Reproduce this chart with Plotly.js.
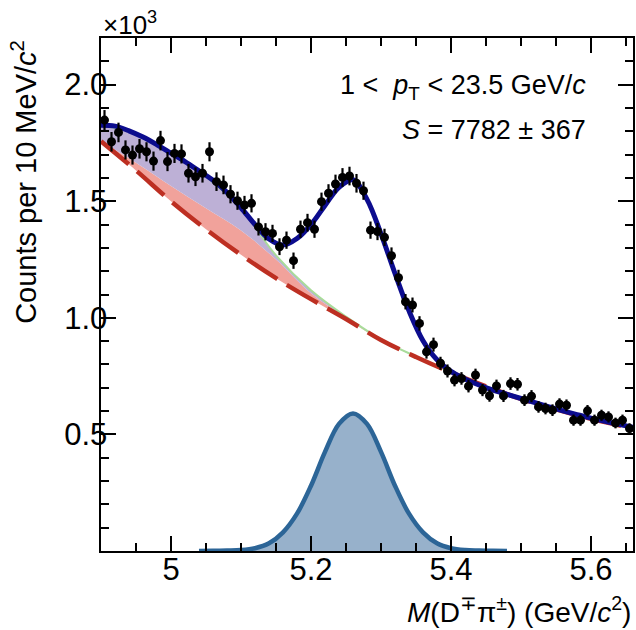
<!DOCTYPE html>
<html>
<head>
<meta charset="utf-8">
<script src="https://cdn.plot.ly/plotly-3.0.1.min.js"></script>
<style>html,body{margin:0;padding:0;background:#fff;}#chart{width:636px;height:630px;}</style>
</head>
<body>
<div id="chart"></div>
<script>
// ---- Data (counts in units of 10^3 per 10 MeV/c^2) ----
const massBins = [4.905,4.915,4.925,4.935,4.945,4.955,4.965,4.975,4.985,4.995,
  5.005,5.015,5.025,5.035,5.045,5.055,5.065,5.075,5.085,5.095,
  5.105,5.115,5.125,5.135,5.145,5.155,5.165,5.175,5.185,5.195,
  5.205,5.215,5.225,5.235,5.245,5.255,5.265,5.275,5.285,5.295,
  5.305,5.315,5.325,5.335,5.345,5.355,5.365,5.375,5.385,5.395,
  5.405,5.415,5.425,5.435,5.445,5.455,5.465,5.475,5.485,5.495,
  5.505,5.515,5.525,5.535,5.545,5.555,5.565,5.575,5.585,5.595,
  5.605,5.615,5.625,5.635,5.645,5.655];
const counts = [1.848,1.755,1.795,1.720,1.698,1.725,1.712,1.672,1.760,1.670,
  1.705,1.703,1.620,1.605,1.620,1.712,1.584,1.570,1.530,1.502,
  1.484,1.491,1.390,1.369,1.362,1.305,1.333,1.245,1.380,1.408,
  1.380,1.498,1.534,1.574,1.602,1.608,1.577,1.545,1.376,1.370,
  1.345,1.266,1.172,1.069,1.055,0.976,0.854,0.885,0.805,0.772,
  0.733,0.740,0.707,0.755,0.690,0.666,0.708,0.665,0.718,0.715,
  0.647,0.664,0.618,0.611,0.604,0.630,0.625,0.561,0.561,0.601,
  0.561,0.582,0.575,0.549,0.561,0.525];
const countErrors = [0.043,0.042,0.042,0.041,0.041,0.042,0.041,0.041,0.042,0.041,
  0.041,0.041,0.040,0.040,0.040,0.041,0.040,0.040,0.039,0.039,
  0.039,0.039,0.037,0.037,0.037,0.036,0.037,0.035,0.037,0.038,
  0.037,0.039,0.039,0.040,0.040,0.040,0.040,0.039,0.037,0.037,
  0.037,0.036,0.034,0.033,0.032,0.031,0.029,0.030,0.028,0.028,
  0.027,0.027,0.027,0.027,0.026,0.026,0.027,0.026,0.027,0.027,
  0.025,0.026,0.025,0.025,0.025,0.025,0.025,0.024,0.024,0.025,
  0.024,0.024,0.024,0.023,0.024,0.023];

// total fit curve
const fitMass = [4.90,4.92,4.94,4.96,4.98,5.00,5.02,5.04,5.06,5.08,5.10,5.12,5.14,5.16,5.18,5.20,
  5.22,5.24,5.26,5.28,5.30,5.32,5.34,5.36,5.38,5.40,5.42,5.44,5.46,5.48,5.50,5.52,5.54,5.56,5.58,5.60,5.62,5.64,5.66];
const fitTotal = [1.826,1.822,1.802,1.775,1.742,1.706,1.670,1.630,1.590,1.538,1.472,1.400,1.338,1.312,1.340,1.400,
  1.482,1.560,1.592,1.508,1.360,1.190,1.030,0.902,0.820,0.770,0.738,0.712,0.690,0.672,0.654,0.636,0.618,0.601,0.585,0.570,0.556,0.543,0.530];

// background components
const bgMass = [4.90,4.95,5.00,5.05,5.10,5.15,5.20,5.25,5.30,5.35,5.40,5.45,5.50,5.55,5.60,5.66];
const combBkg = [1.757,1.632,1.500,1.380,1.270,1.170,1.080,0.995,0.905,0.832,0.766,0.706,0.652,0.607,0.567,0.526];
const partRecoTop = [1.757,1.665,1.565,1.470,1.375,1.250,1.105,1.000,0.905,0.832,0.766,0.706,0.652,0.607,0.567,0.526];
const totalBkg = [1.826,1.790,1.706,1.605,1.467,1.268,1.118,1.005,0.908,0.834,0.767,0.707,0.653,0.608,0.568,0.527];

// signal component
const sigMass = [5.04,5.06,5.08,5.10,5.12,5.14,5.16,5.18,5.20,5.22,5.24,5.26,5.28,5.30,5.32,5.34,5.36,5.38,5.40,5.42,5.44,5.46,5.48];
const sigShape = [0.000,0.001,0.002,0.004,0.012,0.033,0.080,0.160,0.280,0.425,0.545,0.590,0.545,0.425,0.280,0.160,0.080,0.033,0.012,0.004,0.002,0.001,0.000];

const xTickVals = [5, 5.2, 5.4, 5.6];
const xTickText = ['5', '5.2', '5.4', '5.6'];
const yTickVals = [0.5, 1.0, 1.5, 2.0];
const yTickText = ['0.5', '1.0', '1.5', '2.0'];

const X_RANGE = [4.9, 5.66];
const Y_RANGE = [0, 2.2];
const FONT = 'Liberation Sans, Arial, Helvetica, sans-serif';

const traces = [
  {x: bgMass, y: combBkg, mode: 'lines', line: {width: 0, shape: 'spline'}, hoverinfo: 'skip'},
  {x: bgMass, y: partRecoTop, mode: 'lines', line: {width: 0, shape: 'spline'}, fill: 'tonexty', fillcolor: '#f1a29b', hoverinfo: 'skip'},
  {x: bgMass, y: totalBkg, mode: 'lines', line: {width: 2, color: '#a9dc9a', shape: 'spline'}, fill: 'tonexty', fillcolor: '#bdb0d6', hoverinfo: 'skip'},
  {x: bgMass, y: combBkg, mode: 'lines', line: {width: 4.5, color: '#bd2f22', dash: '36px,11px', shape: 'spline'}},
  {x: sigMass, y: sigShape, mode: 'lines', line: {width: 4.5, color: '#2c6597', shape: 'spline'}, fill: 'tozeroy', fillcolor: '#97b1cb'},
  {x: fitMass, y: fitTotal, mode: 'lines', line: {width: 5, color: '#0c0c8e', shape: 'spline'}},
  {x: massBins, y: counts, mode: 'markers', marker: {color: '#000', size: 9},
   error_y: {type: 'data', array: countErrors, visible: true, color: '#000', thickness: 2.2, width: 0}},
  // label-carrying overlay axes (no marks)
  {x: [], y: [], xaxis: 'x2', yaxis: 'y2', mode: 'markers', hoverinfo: 'skip'}
];

const frameAxis = {
  showline: true, linecolor: '#000', linewidth: 2, mirror: 'allticks',
  ticks: 'inside', tickcolor: '#000', tickwidth: 2, ticklen: 15,
  showgrid: false, zeroline: false, tickmode: 'array', showticklabels: false
};
const labelAxis = {
  showline: false, ticks: '', showgrid: false, zeroline: false, tickmode: 'array',
  tickfont: {family: FONT, size: 31, color: '#000'}
};

const layout = {
  width: 636, height: 630,
  margin: {l: 101, r: 3, t: 38, b: 79},
  paper_bgcolor: '#fff', plot_bgcolor: '#fff',
  showlegend: false,
  font: {family: FONT, color: '#000'},
  xaxis: Object.assign({}, frameAxis, {
    range: X_RANGE, tickvals: xTickVals, ticktext: xTickText,
    minor: {ticks: 'inside', ticklen: 8, tickwidth: 2, tickcolor: '#000', tick0: 5, dtick: 0.05, showgrid: false}
  }),
  yaxis: Object.assign({}, frameAxis, {
    range: Y_RANGE, tickvals: yTickVals, ticktext: yTickText,
    minor: {ticks: 'inside', ticklen: 8, tickwidth: 2, tickcolor: '#000', tick0: 0, dtick: 0.1, showgrid: false}
  }),
  xaxis2: Object.assign({}, labelAxis, {
    range: X_RANGE, tickvals: xTickVals, ticktext: xTickText,
    overlaying: 'x', anchor: 'free', position: 0.006, side: 'bottom'
  }),
  yaxis2: Object.assign({}, labelAxis, {
    range: Y_RANGE, tickvals: yTickVals, ticktext: yTickText,
    overlaying: 'y', anchor: 'free', position: 0.012, side: 'left'
  }),
  annotations: [
    {xref: 'paper', yref: 'paper', x: 0, y: 1, xanchor: 'left', yanchor: 'bottom', yshift: -4, showarrow: false,
     text: '×10<sup>3</sup>', font: {family: FONT, size: 26, color: '#000'}},
    {xref: 'paper', yref: 'paper', x: -0.145, y: 1, xanchor: 'center', yanchor: 'top', showarrow: false, textangle: -90,
     text: 'Counts per 10 MeV/<i>c</i><sup>2</sup>', font: {family: FONT, size: 29, color: '#000'}},
    {xref: 'paper', yref: 'paper', x: 1, y: -0.115, xanchor: 'right', yanchor: 'middle', showarrow: false,
     text: '<i>M</i>(D<sup>∓</sup>π<sup>±</sup>) (GeV/<i>c</i><sup>2</sup>)', font: {family: FONT, size: 28, color: '#000'}},
    {xref: 'paper', yref: 'paper', x: 0.9154, y: 0.9045, xanchor: 'right', yanchor: 'middle', showarrow: false,
     text: '1 &lt;  <i>p</i><sub>T</sub> &lt; 23.5 GeV/<i>c</i>', font: {family: FONT, size: 27, color: '#000'}},
    {xref: 'paper', yref: 'paper', x: 0.9154, y: 0.8207, xanchor: 'right', yanchor: 'middle', showarrow: false,
     text: '<i>S</i> = 7782 ± 367', font: {family: FONT, size: 27, color: '#000'}}
  ]
};

Plotly.newPlot('chart', traces, layout, {staticPlot: true, displayModeBar: false});
</script>
</body>
</html>
